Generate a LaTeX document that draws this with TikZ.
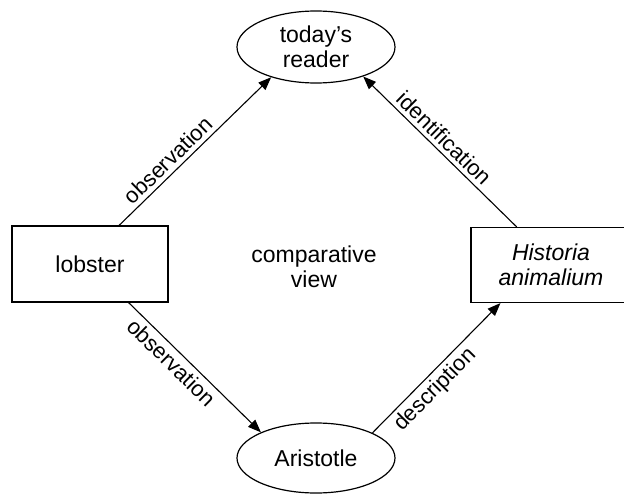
\documentclass[tikz,border=0pt]{standalone}
\usepackage{fontspec}
\setmainfont{Liberation Sans}
\usetikzlibrary{arrows.meta,shapes.geometric}
\begin{document}
\begin{tikzpicture}[x=1pt,y=-1pt,
  every node/.style={font=\fontsize{23}{25.5}\selectfont, align=center, inner sep=0pt},
  oval/.style={draw, ellipse, line width=1.2pt, minimum width=158pt, minimum height=72pt},
  box/.style={draw, rectangle, line width=1.2pt},
  conn/.style={line width=1.1pt, -{Triangle[length=13pt,width=10pt]}},
  lab/.style={font=\fontsize{22}{24}\selectfont, sloped, inner sep=4pt}
]
\clip (0,0) rectangle (624,495);
\fill[white] (0,0) rectangle (624,495);
\node[oval] (reader) at (316,47) {today’s\\reader};
\node[oval, minimum height=70pt] (arist) at (316,458) {Aristotle};
\node[box, minimum width=156pt, minimum height=76pt] (lob) at (90,264) {lobster};
\node[box, minimum width=160pt, minimum height=75pt] (hist) at (551,265) {\itshape Historia\\\itshape animalium};
\node (comp) at (314,267) {comparative\\view};
\draw[conn] (lob.53.6) -- node[lab, pos=0.38, above] {observation} (reader.214);
\draw[conn] (hist.132) -- node[lab, pos=0.53, above] {identification} (reader.328);
\draw[conn] (lob.-45) -- node[lab, pos=0.39, below] {observation} (arist.155);
\draw[conn] (arist.24) -- node[lab, pos=0.41, below] {description} (hist.217);
\end{tikzpicture}
\end{document}
